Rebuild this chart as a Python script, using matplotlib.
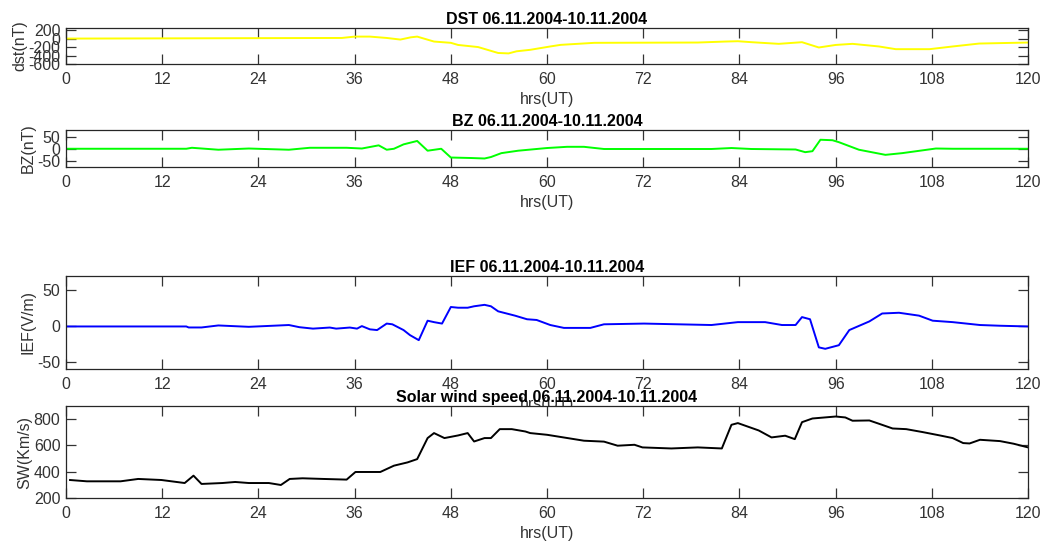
import matplotlib
matplotlib.use("Agg")
import matplotlib.pyplot as plt

plt.rcParams['font.family'] = ['Liberation Sans', 'DejaVu Sans']
plt.rcParams['font.size'] = 11.5
plt.rcParams['axes.unicode_minus'] = False

period = '06.11.2004-10.11.2004'
x_ticks = [0, 12, 24, 36, 48, 60, 72, 84, 96, 108, 120]

# Dst index (nT)
dst_t = [0, 34.4, 36, 37.9, 40, 41.7, 43, 43.8, 45.9, 48, 48.9, 51.4, 53.9, 55.2,
         56.2, 57.9, 60.4, 61.7, 65.9, 78.8, 82.2, 83.8, 85.5, 88.9, 91.8, 93.9,
         96, 98.1, 101.4, 103.5, 107.7, 110.6, 113.9, 120]
dst_v = [0, 15, 47, 47, 15, -23, 30, 47, -70, -100, -150, -200, -340, -350,
         -300, -265, -186, -148, -100, -93, -70, -62, -85, -124, -85, -210,
         -150, -124, -186, -250, -250, -186, -117, -93]

# IMF Bz (nT)
bz_t = [0, 15, 15.7, 19, 22.8, 27.8, 30.4, 35, 36.9, 39, 40, 40.9, 42.1, 43.8,
        45.1, 46.8, 48, 50.5, 52.2, 53, 54.3, 56.4, 60, 62.5, 64.6, 67.1, 80.5,
        83, 85.5, 91, 92.2, 93.1, 94.1, 95.6, 96.4, 98.9, 102.2, 104.3, 108.5,
        110.6, 120]
bz_v = [0, 0, 4, -4, 1, -4, 4, 4, 1, 14, -4, 0, 18, 32,
        -8, 0, -36, -38, -40, -34, -18, -8, 3, 8, 8, -1, -1,
        3, -1, -3, -14, -10, 37, 35, 27, -4, -25, -18, 1,
        0, 0]

# Interplanetary electric field (V/m)
ief_t = [0, 15, 15.3, 16.9, 19, 22.8, 27.8, 29.1, 30.8, 32.9, 33.7, 35.4, 36.3,
         36.9, 37.9, 38.8, 40, 40.7, 42.1, 42.9, 44, 45.1, 45.9, 46.9, 48, 48.9,
         50.1, 50.9, 52.2, 53, 53.9, 56, 57.5, 58.7, 60.4, 62.1, 65.4, 67.1, 72.1,
         80.5, 83.8, 87.2, 89.3, 91, 91.8, 92.8, 93.9, 94.7, 96.4, 97.7, 100.2,
         101.8, 103.9, 106.4, 108.1, 110.6, 114, 116.5, 120]
ief_v = [0, 0, -1.4, -1.4, 1.4, -0.5, 2, -1, -3, -1.5, -3, -1.5, -3,
         0.5, -4, -5, 4, 3, -5, -12, -19, 8, 6, 4, 27, 26,
         26, 28, 30, 28, 21, 15, 10, 9, 2, -2, -2, 3, 4,
         2, 6, 6, 2, 2, 13, 10, -29, -31, -26, -5, 7,
         18, 19, 15, 8, 6, 2, 1, 0]

# Solar wind speed (km/s)
sw_t = [0.5, 2.6, 6.8, 9, 11.9, 14.8, 15.9, 16.9, 19.5, 21.1, 22.8, 25.3, 26.8,
        27.9, 29.5, 32.1, 35, 36.1, 39.2, 40.9, 42.6, 43.8, 45.1, 45.9, 47.2,
        48.9, 50.1, 50.9, 52.2, 53, 54.1, 55.6, 57.3, 57.9, 60, 64.6, 67.1, 68.8,
        70.9, 71.9, 75.5, 78.8, 81.8, 83, 83.8, 86.4, 88, 89.7, 90.9, 91.8, 93.1,
        96, 97.2, 98.1, 100.2, 101.4, 103.1, 104.8, 106.9, 109, 110.6, 111.9,
        112.7, 114, 116.5, 118.2, 120]
sw_v = [337, 327, 327, 345, 337, 314, 370, 307, 314, 322, 314, 314, 299,
        345, 350, 345, 340, 398, 398, 446, 471, 496, 656, 694, 656,
        676, 694, 630, 656, 656, 724, 724, 706, 694, 681, 636, 629, 598,
        605, 585, 577, 585, 577, 757, 770, 714, 661, 674, 648, 777, 805,
        820, 813, 788, 790, 765, 729, 724, 701, 676, 656, 618,
        615, 643, 633, 613, 585]

panels = [
    (dst_t, dst_v, '#ffff00', 'dst(nT)', 'DST ' + period,
     (-600, 250), [-600, -400, -200, 0, 200], [0.063, 0.8828, 0.918, 0.0659]),
    (bz_t, bz_v, '#00ff00', 'BZ(nT)', 'BZ ' + period,
     (-75, 77), [-50, 0, 50], [0.063, 0.6941, 0.918, 0.0678]),
    (ief_t, ief_v, '#0000ff', 'IEF(V/m)', 'IEF ' + period,
     (-59, 70), [-50, 0, 50], [0.063, 0.3242, 0.918, 0.1703]),
    (sw_t, sw_v, '#000000', 'SW(Km/s)', 'Solar wind speed ' + period,
     (200, 900), [200, 400, 600, 800], [0.063, 0.0879, 0.918, 0.1685]),
]

fig = plt.figure(figsize=(10.48, 5.46), dpi=100)

for t, v, col, ylab, title, ylim, yticks, pos in panels:
    ax = fig.add_axes(pos)
    ax.plot(t, v, color=col, lw=1.4)
    ax.set_xlim(0, 120)
    ax.set_ylim(*ylim)
    ax.set_xticks(x_ticks)
    ax.set_yticks(yticks)
    ax.tick_params(direction='in', top=True, right=True, length=7, width=0.9,
                   colors='#333333', labelsize=11.5, pad=4)
    ax.tick_params(axis='x', pad=5.5)
    for s in ax.spines.values():
        s.set_color('#262626')
        s.set_linewidth(0.9)
    ax.set_xlabel('hrs(UT)', color='#333333', labelpad=4)
    ax.set_ylabel(ylab, color='#333333', labelpad=1)
    ax.set_title(title, fontweight='bold', fontsize=11.5, pad=3)

fig.savefig('out.png', dpi=100)
